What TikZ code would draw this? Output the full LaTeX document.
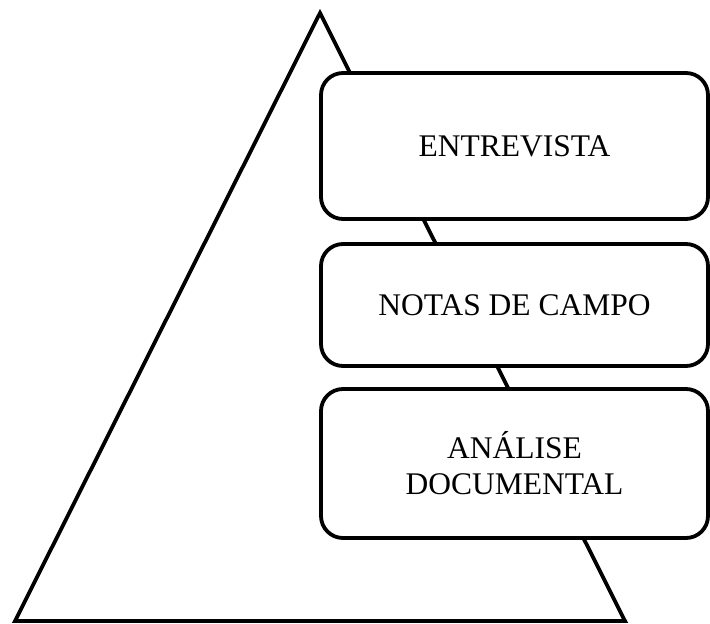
\documentclass[tikz,border=0pt]{standalone}
\usepackage{fontspec}
\setmainfont{Liberation Serif}
\begin{document}
\begin{tikzpicture}[x=1pt,y=-1pt,
  boxstyle/.style={draw=black,line width=3.8pt,fill=white,rounded corners=22pt,
    inner sep=0pt,minimum width=387pt,align=center,font=\fontsize{31.5}{36}\selectfont},
  tri/.style={draw=black,line width=3.8pt,line join=miter}]
\useasboundingbox (0,0) rectangle (710,624);
\coordinate (apex) at (320,13);
\coordinate (bl) at (15,621);
\coordinate (br) at (625,621);
\draw[tri] (apex) -- (bl) -- (br) -- cycle;
\node[boxstyle,minimum height=146pt] (b1) at (514.5,146) {ENTREVISTA};
\node[boxstyle,minimum height=122pt] (b2) at (514.5,305) {NOTAS DE CAMPO};
\node[boxstyle,minimum height=149pt] (b3) at (514.5,463.5) {ANÁLISE\\DOCUMENTAL};
\end{tikzpicture}
\end{document}
